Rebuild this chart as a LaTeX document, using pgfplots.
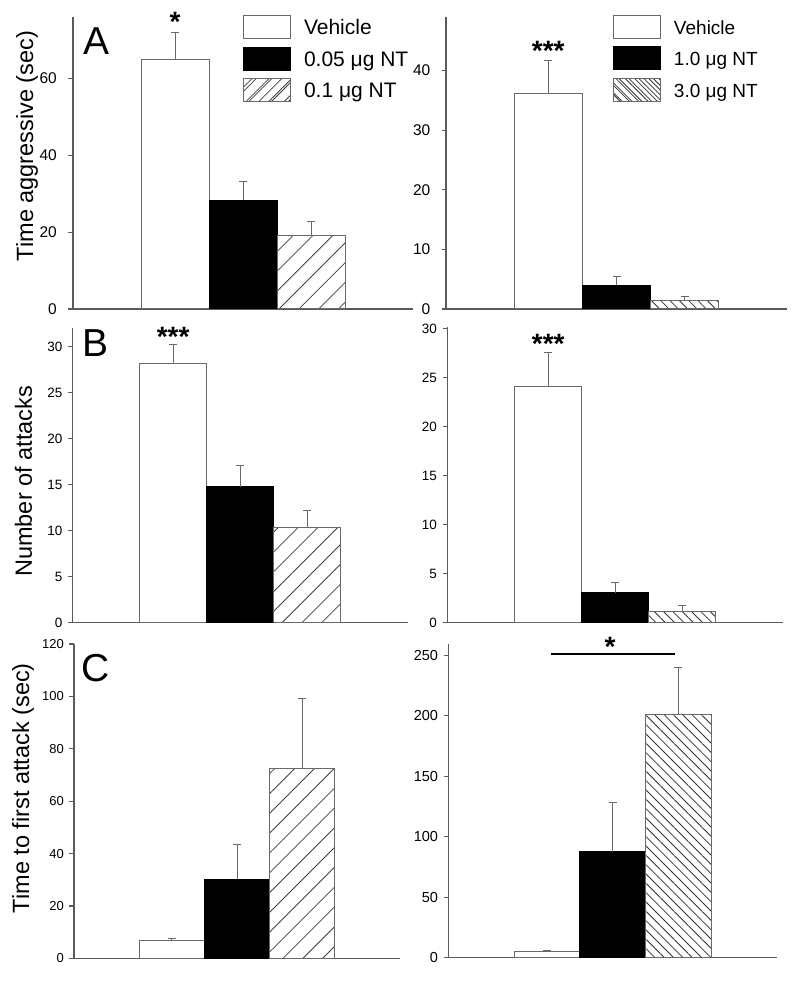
\documentclass[border=0pt]{standalone}
\usepackage{fontspec}
\setmainfont{Liberation Sans}
\usepackage{pgfplots}
\pgfplotsset{compat=1.18}
\usetikzlibrary{patterns.meta}

\definecolor{axisgray}{RGB}{90,90,90}
\definecolor{edgegray}{RGB}{105,105,105}

\pgfplotsset{
  panel/.style={
    scale only axis, anchor=south west,
    xmin=0, xmax=5, ymin=0,
    axis x line=bottom, axis y line=left,
    axis line style={-, draw=axisgray, line width=1.2pt},
    xtick=\empty,
    tick align=outside,
    major tick length=4.5pt,
    ytick style={draw=axisgray, line width=1.2pt},
    yticklabel style={inner sep=0pt, font=\fontsize{13.5}{15}\selectfont},
    /pgf/number format/assume math mode=true,
    clip=false,
    ylabel style={rotate=0, anchor=south, inner sep=0pt, text depth=0pt, font=\fontsize{23.5}{28}\selectfont},
  },
  basebar/.style={ybar, bar width=1, bar shift=0pt, line width=1pt,
    /pgfplots/error bars/y dir=plus, /pgfplots/error bars/y explicit,
    /pgfplots/error bars/error mark=-,
    /pgfplots/error bars/error bar style={edgegray, line width=1pt},
    /pgfplots/error bars/error mark options={rotate=90, edgegray, mark size=4pt, line width=1pt}},
  vehbar/.style={basebar, fill=white, draw=edgegray,
    legend image code/.code={\draw[draw=edgegray, line width=1pt, fill=white] (0pt,-11.5pt) rectangle (47pt,11.5pt);}},
  blkbar/.style={basebar, fill=black, draw=black,
    legend image code/.code={\draw[draw=black, line width=1pt, fill=black] (0pt,-11.5pt) rectangle (47pt,11.5pt);}},
  hatchL/.style={basebar, draw=edgegray, fill=white, postaction={pattern={Lines[angle=45,distance=14pt,line width=0.8pt]}, pattern color=black!75},
    legend image code/.code={\draw[draw=edgegray, line width=1pt, fill=white, postaction={pattern={Lines[angle=45,distance=9pt,line width=0.8pt]}, pattern color=black!75}] (0pt,-11.5pt) rectangle (47pt,11.5pt);}},
  hatchR/.style={basebar, draw=edgegray, fill=white, postaction={pattern={Lines[angle=-45,distance=6.6pt,line width=0.8pt]}, pattern color=black!80},
    legend image code/.code={\draw[draw=edgegray, line width=1pt, fill=white, postaction={pattern={Lines[angle=-45,distance=7pt,line width=0.8pt]}, pattern color=black!80}] (0pt,-11.5pt) rectangle (47pt,11.5pt);}},
  mylegend/.style={legend style={at={(axis description cs:#1)}, anchor=north west, draw=none, fill=none,
    inner sep=0pt, outer sep=0pt, row sep=7.5pt, column sep=13pt,
    nodes={inner sep=0pt, text height=15pt, text depth=0pt, anchor=west}},
    legend cell align=left},
}
\newcommand{\starfont}{\fontsize{28}{30}\selectfont\bfseries}
\newcommand{\letterfont}{\fontsize{39}{40}\selectfont}

\begin{document}
\begin{tikzpicture}
\path[use as bounding box] (0,0) rectangle (800pt,984pt);

% ---------- A left ----------
\begin{axis}[panel, at={(73pt,675pt)}, width=340pt, height=292pt,
  ymax=76, ytick={0,20,40,60},
  yticklabel style={font=\fontsize{15.5}{17}\selectfont}, yticklabel shift=11.5pt,
  ylabel={Time aggressive (sec)},
  ylabel style={at={(axis description cs:-0.1168,0.558)}},
  mylegend={0.5,1.0068}, legend style={font=\fontsize{21}{24}\selectfont}]
\addplot[vehbar] coordinates {(1.5,64.9) +- (0,7.0)};
\addplot[blkbar] coordinates {(2.5,28.3) +- (0,4.9)};
\addplot[hatchL] coordinates {(3.5,19.0) +- (0,3.9)};
\legend{Vehicle, 0.05 μg NT, 0.1 μg NT}
\node[anchor=north, inner sep=0pt, font=\starfont] at (axis cs:1.5,77.2) {*};
\node[anchor=base west, inner sep=0pt, font=\letterfont] at (axis description cs:0.0294,0.87) {A};
\end{axis}

% ---------- A right ----------
\begin{axis}[panel, at={(446pt,675pt)}, width=341pt, height=292pt,
  ymax=49, ytick={0,10,20,30,40},
  yticklabel style={font=\fontsize{15.5}{17}\selectfont}, yticklabel shift=11pt,
  mylegend={0.4897,1.0068}, legend style={font=\fontsize{19}{22}\selectfont}]
\addplot[vehbar] coordinates {(1.5,36.2) +- (0,5.5)};
\addplot[blkbar] coordinates {(2.5,4.0) +- (0,1.4)};
\addplot[hatchR] coordinates {(3.5,1.4) +- (0,0.7)};
\legend{Vehicle, 1.0 μg NT, 3.0 μg NT}
\node[anchor=north, inner sep=0pt, font=\starfont] at (axis cs:1.5,45.0) {***};
\end{axis}

% ---------- B left ----------
\begin{axis}[panel, at={(72.7pt,361.3pt)}, width=335pt, height=294.4pt,
  ymax=32, ytick={0,5,10,15,20,25,30},
  yticklabel shift=5.5pt,
  ylabel={Number of attacks},
  ylabel style={at={(axis description cs:-0.1215,0.48)}}]
\addplot[vehbar] coordinates {(1.5,28.2) +- (0,2.0)};
\addplot[blkbar] coordinates {(2.5,14.8) +- (0,2.3)};
\addplot[hatchL] coordinates {(3.5,10.4) +- (0,1.8)};
\node[anchor=north, inner sep=0pt, font=\starfont] at (axis cs:1.5,32.1) {***};
\node[anchor=base west, inner sep=0pt, font=\letterfont] at (axis description cs:0.028,0.9025) {B};
\end{axis}

% ---------- B right ----------
\begin{axis}[panel, at={(447.7pt,361.3pt)}, width=335pt, height=296pt,
  ymax=30.2, ytick={0,5,10,15,20,25,30},
  yticklabel shift=6pt,
  ]
\addplot[vehbar] coordinates {(1.5,24.1) +- (0,3.45)};
\addplot[blkbar] coordinates {(2.5,3.06) +- (0,1.02)};
\addplot[hatchR] coordinates {(3.5,1.19) +- (0,0.6)};
\node[anchor=north, inner sep=0pt, font=\starfont] at (axis cs:1.5,29.5) {***};
\end{axis}

% ---------- C left ----------
\begin{axis}[panel, at={(74pt,25.7pt)}, width=326pt, height=314.3pt,
  ymax=120, ytick={0,20,40,60,80,100,120},
  yticklabel style={font=\fontsize{13}{15}\selectfont}, yticklabel shift=5.5pt,
  ylabel={Time to first attack (sec)},
  ylabel style={at={(axis description cs:-0.137,0.541)}}]
\addplot[vehbar] coordinates {(1.5,6.7) +- (0,0.8)};
\addplot[blkbar] coordinates {(2.5,30.2) +- (0,13.3)};
\addplot[hatchL] coordinates {(3.5,72.6) +- (0,26.5)};
\node[anchor=base west, inner sep=0pt, font=\letterfont] at (axis description cs:0.0215,0.882) {C};
\end{axis}

% ---------- C right ----------
\begin{axis}[panel, at={(448.7pt,26.3pt)}, width=328pt, height=313.7pt,
  ymax=259.3, ytick={0,50,100,150,200,250},
  yticklabel style={font=\fontsize{14.5}{16}\selectfont}, yticklabel shift=6pt,
  ]
\addplot[vehbar] coordinates {(1.5,5.0) +- (0,0.8)};
\addplot[blkbar] coordinates {(2.5,87.6) +- (0,40.8)};
\addplot[hatchR] coordinates {(3.5,201.2) +- (0,38.5)};
\addplot[black, line width=1.4pt, forget plot] coordinates {(1.56,251) (3.45,251)};
\node[anchor=north, inner sep=0pt, font=\starfont] at (axis cs:2.46,265.3) {*};
\end{axis}
\end{tikzpicture}
\end{document}
